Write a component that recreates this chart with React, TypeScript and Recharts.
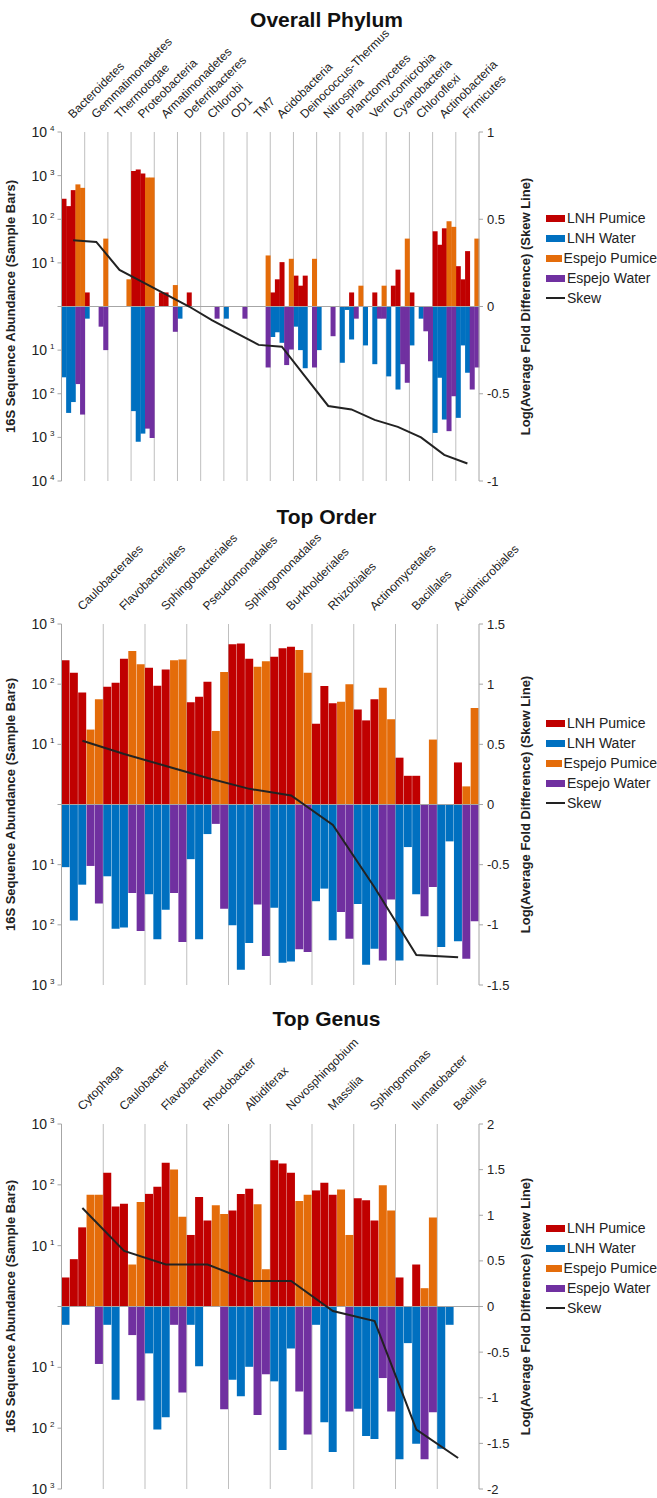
import React from 'react';
import { ComposedChart, Bar, Line, XAxis, YAxis, CartesianGrid, ReferenceLine, Legend } from 'recharts';

const RED = '#c00000';
const BLUE = '#0070c0';
const ORANGE = '#e46c0a';
const PURPLE = '#7030a0';
const FONT = '"Liberation Sans", Arial, sans-serif';

// ---- Overall Phylum (sequence counts; 3 LNH replicates, 2 Espejo replicates) ----
const PHYLUM_CATS = ['Bacteroidetes', 'Gemmatimonadetes', 'Thermotogae', 'Proteobacteria', 'Armatimonadetes', 'Deferribacteres', 'Chlorobi', 'OD1', 'TM7', 'Acidobacteria', 'Deinococcus-Thermus', 'Nitrospira', 'Planctomycetes', 'Verrucomicrobia', 'Cyanobacteria', 'Chloroflexi', 'Actinobacteria', 'Firmicutes'];
const PHYLUM_LNH_PUMICE = [[295, 200, 465], [2.1, 0, 0], [0, 0, 0], [1270, 1380, 1120], [0, 2.1, 2.1], [0, 0, 2.1], [0, 0, 0], [0, 0, 0], [0, 0, 0], [2.1, 4.2, 10.4], [5.1, 3, 5.1], [0, 0, 0], [0, 0, 2.1], [0, 0, 2.1], [0, 3, 7], [2.1, 0, 0], [53, 26, 62], [8.4, 4.2, 18.6]];
const PHYLUM_ESP_PUMICE = [[630, 525], [0, 36], [0, 4.2], [900, 900], [0, 3.1], [0, 0], [0, 0], [0, 0], [0, 14.8], [0, 12.4], [0, 12.4], [0, 0], [0, 3], [0, 3], [0, 36], [0, 0], [90, 67], [0, 36]];
const PHYLUM_LNH_WATER = [[42, 275, 155], [1.9, 0, 0], [0, 0, 0], [250, 1260, 820], [0, 0, 0], [1.9, 0, 0], [0, 0, 0], [1.9, 0, 0], [0, 0, 0], [5, 3.9, 6.8], [2.9, 10, 26], [10, 0, 0], [19.5, 1.2, 5.7], [7.8, 0, 21], [40, 0, 80], [7.8, 0, 1.9], [790, 43, 390], [357, 7.8, 33]];
const PHYLUM_ESP_WATER = [[60, 300], [2.9, 10], [0, 0], [630, 1030], [0, 3.8], [0, 0], [1.9, 0], [0, 1.9], [0, 25], [22, 9.7], [0, 25], [4.8, 0], [1.9, 0], [1.9, 1.9], [21, 56], [3.7, 18], [720, 114], [80, 25]];
const PHYLUM_SKEW = [0.38, 0.37, 0.21, 0.14, 0.07, 0.0, -0.08, -0.15, -0.22, -0.23, -0.4, -0.57, -0.59, -0.65, -0.69, -0.75, -0.85, -0.9];

// ---- Top Order ----
const ORDER_CATS = ['Caulobacterales', 'Flavobacteriales', 'Sphingobacteriales', 'Pseudomonadales', 'Sphingomonadales', 'Burkholderiales', 'Rhizobiales', 'Actinomycetales', 'Bacillales', 'Acidimicrobiales'];
const ORDER_LNH_PUMICE = [[250, 155, 73], [91, 106, 265], [188, 94, 176], [50, 62, 110], [460, 475, 265], [285, 395, 420], [22, 93, 48], [38, 25, 56], [6, 3, 3], [0, 0, 5]];
const ORDER_ESP_PUMICE = [[17.6, 56], [355, 215], [250, 258], [16.7, 159], [195, 240], [370, 155], [51, 100], [87, 26], [0, 12], [2, 40]];
const ORDER_LNH_WATER = [[11, 85, 21.5], [15.6, 116, 111], [31, 174, 56], [8.1, 174, 3.1], [102, 560, 200], [52, 425, 405], [40.5, 25, 181], [45, 460, 250], [390, 5.1, 31], [234, 4.1, 187]];
const ORDER_ESP_WATER = [[10.5, 44], [29.5, 127], [29.5, 193], [2.1, 54], [46, 330], [255, 283], [61, 170], [390, 38], [72, 23.5], [365, 87]];
const ORDER_SKEW = [0.53, 0.42, 0.32, 0.22, 0.13, 0.075, -0.17, -0.69, -1.25, -1.27];

// ---- Top Genus ----
const GENUS_CATS = ['Cytophaga', 'Caulobacter', 'Flavobacterium', 'Rhodobacter', 'Albidiferax', 'Novosphingobium', 'Massilia', 'Sphingomonas', 'Ilumatobacter', 'Bacillus'];
const GENUS_LNH_PUMICE = [[3, 6, 20], [158, 44, 49], [71, 93, 230], [15, 63, 26], [38, 71, 86], [253, 224, 158], [81, 108, 69], [60, 56, 26], [3, 0, 4.9], [0, 0, 0]];
const GENUS_ESP_PUMICE = [[69, 69], [4.9, 52], [178, 30], [46, 33], [48, 4.1], [54, 69], [84, 15], [98, 38], [2, 29], [0, 0]];
const GENUS_LNH_WATER = [[2, 0, 0], [2, 34, 0], [5.9, 105, 66], [2, 9.6, 0], [16, 30, 9.8], [17, 228, 4.9], [2, 80, 247], [48, 135, 150], [325, 4, 180], [218, 2, 0]];
const GENUS_ESP_WATER = [[0, 8.8], [2.95, 35], [2, 26], [0, 49], [61, 13], [25, 127], [0, 53], [15, 53], [325, 55], [0, 0]];
const GENUS_SKEW = [1.08, 0.61, 0.46, 0.46, 0.28, 0.28, -0.05, -0.16, -1.35, -1.66];

const LEGEND_ITEMS = [
  { name: 'LNH Pumice', color: RED },
  { name: 'LNH Water', color: BLUE },
  { name: 'Espejo Pumice', color: ORANGE },
  { name: 'Espejo Water', color: PURPLE },
  { name: 'Skew', color: '#222', line: true },
];

type PanelCfg = {
  title: string;
  cats: string[];
  lnhP: number[][];
  espP: number[][];
  lnhW: number[][];
  espW: number[][];
  skew: number[];
  top: number;
  height: number;
  plotTop: number;
  plotBottom: number;
  leftMax: number;
  rightTicks: number[];
  legendTop: number;
  titleTop: number;
};

const lg = (v: number) => (v > 0 ? Math.log10(v) : null);

function buildRows(p: PanelCfg) {
  const rows: any[] = [];
  p.cats.forEach((c, i) => {
    for (let s = 0; s < 5; s++) {
      const lnh = s < 3;
      const up = lnh ? p.lnhP[i][s] : p.espP[i][s - 3];
      const dn = lnh ? p.lnhW[i][s] : p.espW[i][s - 3];
      const dl = lg(dn);
      rows.push({
        slot: `${c}|${s}`,
        lnhP: lnh ? lg(up) : null,
        lnhW: lnh && dl !== null ? -dl : null,
        espP: !lnh ? lg(up) : null,
        espW: !lnh && dl !== null ? -dl : null,
        skew: s === 2 ? p.skew[i] : null,
      });
    }
  });
  return rows;
}

const CatTick = (props: any) => {
  const { x, y, payload } = props;
  const name = String(payload.value).split('|')[0];
  return (
    <text x={x} y={y} transform={`rotate(-45 ${x} ${y})`} fontSize={12} fill="#222" textAnchor="start">
      {name}
    </text>
  );
};

const LogTick = (props: any) => {
  const { x, y, payload } = props;
  const n = Math.abs(payload.value);
  if (n === 0) return <g />;
  return (
    <text x={x} y={y} dy={5} textAnchor="end" fontSize={14} fill="#222">
      <tspan>10</tspan>
      <tspan dx={3} dy={-6} fontSize={8}>{n}</tspan>
    </text>
  );
};

const axisTitle = (text: string, x: number) => (props: any) => {
  const vb = props.viewBox || {};
  const cy = (vb.y ?? 0) + (vb.height ?? 0) / 2;
  return (
    <text x={x} y={cy} transform={`rotate(-90 ${x} ${cy})`} textAnchor="middle" dominantBaseline="central" fontSize={13} fontWeight="bold" fill="#222">
      {text}
    </text>
  );
};

const LegendBox = () => (
  <div style={{ fontFamily: FONT, fontSize: 14, color: '#222' }}>
    {LEGEND_ITEMS.map((it) => (
      <div key={it.name} style={{ display: 'flex', alignItems: 'center', height: 20, whiteSpace: 'nowrap' }}>
        {it.line ? (
          <span style={{ display: 'inline-block', width: 19, height: 2, background: it.color }} />
        ) : (
          <span style={{ display: 'inline-block', width: 19, height: 7, background: it.color }} />
        )}
        <span style={{ marginLeft: 2 }}>{it.name}</span>
      </div>
    ))}
  </div>
);

function Panel({ p }: { p: PanelCfg }) {
  const rows = buildRows(p);
  const centers = p.cats.map((c) => `${c}|2`);
  const nCat = p.cats.length;
  const leftTicks = Array.from({ length: 2 * p.leftMax + 1 }, (_, i) => i - p.leftMax);
  const rMax = p.rightTicks[p.rightTicks.length - 1];
  const axisH = 20;
  return (
    <div style={{ position: 'absolute', left: 0, top: p.top, width: 657, height: p.height }}>
      <div style={{ position: 'absolute', left: -2, top: p.titleTop, width: 657, textAlign: 'center', fontSize: 21, lineHeight: '21px', fontWeight: 'bold', color: '#111' }}>
        {p.title}
      </div>
      <ComposedChart
        width={657}
        height={p.height}
        data={rows}
        stackOffset="sign"
        barCategoryGap={0}
        barGap={0}
        margin={{ top: p.plotTop - axisH, right: 138, bottom: p.height - p.plotBottom, left: 11.5 }}
      >
        <CartesianGrid
          yAxisId="left"
          horizontal={false}
          stroke="#bfbfbf"
          verticalCoordinatesGenerator={({ offset }: any) =>
            Array.from({ length: nCat - 1 }, (_, k) => offset.left + ((k + 1) * offset.width) / nCat)
          }
        />
        <XAxis
          dataKey="slot"
          orientation="top"
          ticks={centers}
          interval={0}
          tick={CatTick}
          tickLine={false}
          axisLine={false}
          tickSize={0}
          tickMargin={13}
          height={axisH}
        />
        <YAxis
          yAxisId="left"
          type="number"
          domain={[-p.leftMax, p.leftMax]}
          ticks={leftTicks}
          interval={0}
          width={50}
          tick={LogTick}
          tickSize={4}
          tickMargin={3}
          axisLine={{ stroke: '#a6a6a6' }}
          tickLine={{ stroke: '#a6a6a6' }}
          label={{ content: axisTitle('16S Sequence Abundance (Sample Bars)', 10.5) }}
        />
        <YAxis
          yAxisId="right"
          orientation="right"
          type="number"
          domain={[-rMax, rMax]}
          ticks={p.rightTicks}
          interval={0}
          width={40}
          tick={{ fontSize: 13, fill: '#222' }}
          tickSize={4}
          tickMargin={4}
          axisLine={{ stroke: '#a6a6a6' }}
          tickLine={{ stroke: '#a6a6a6' }}
          label={{ content: axisTitle('Log(Average Fold Difference) (Skew Line)', 525) }}
        />
        <ReferenceLine y={0} yAxisId="left" stroke="#a6a6a6" />
        <Bar dataKey="lnhP" name="LNH Pumice" stackId="s" yAxisId="left" fill={RED} isAnimationActive={false} />
        <Bar dataKey="lnhW" name="LNH Water" stackId="s" yAxisId="left" fill={BLUE} isAnimationActive={false} />
        <Bar dataKey="espP" name="Espejo Pumice" stackId="s" yAxisId="left" fill={ORANGE} isAnimationActive={false} />
        <Bar dataKey="espW" name="Espejo Water" stackId="s" yAxisId="left" fill={PURPLE} isAnimationActive={false} />
        <Line
          dataKey="skew"
          name="Skew"
          yAxisId="right"
          type="linear"
          stroke="#222"
          strokeWidth={2}
          dot={false}
          connectNulls
          isAnimationActive={false}
        />
        <Legend
          layout="vertical"
          align="center"
          verticalAlign="middle"
          content={LegendBox}
          wrapperStyle={{ left: 546, top: p.legendTop, width: 111 }}
        />
      </ComposedChart>
    </div>
  );
}

const PANELS: PanelCfg[] = [
  {
    title: 'Overall Phylum', cats: PHYLUM_CATS, lnhP: PHYLUM_LNH_PUMICE, espP: PHYLUM_ESP_PUMICE,
    lnhW: PHYLUM_LNH_WATER, espW: PHYLUM_ESP_WATER, skew: PHYLUM_SKEW,
    top: 0, height: 500, plotTop: 132, plotBottom: 481, leftMax: 4,
    rightTicks: [-1, -0.5, 0, 0.5, 1], legendTop: 208, titleTop: 9,
  },
  {
    title: 'Top Order', cats: ORDER_CATS, lnhP: ORDER_LNH_PUMICE, espP: ORDER_ESP_PUMICE,
    lnhW: ORDER_LNH_WATER, espW: ORDER_ESP_WATER, skew: ORDER_SKEW,
    top: 500, height: 500, plotTop: 124, plotBottom: 485, leftMax: 3,
    rightTicks: [-1.5, -1, -0.5, 0, 0.5, 1, 1.5], legendTop: 213, titleTop: 5.5,
  },
  {
    title: 'Top Genus', cats: GENUS_CATS, lnhP: GENUS_LNH_PUMICE, espP: GENUS_ESP_PUMICE,
    lnhW: GENUS_LNH_WATER, espW: GENUS_ESP_WATER, skew: GENUS_SKEW,
    top: 1000, height: 498, plotTop: 124, plotBottom: 489, leftMax: 3,
    rightTicks: [-2, -1.5, -1, -0.5, 0, 0.5, 1, 1.5, 2], legendTop: 218, titleTop: 7.5,
  },
];

export default function App() {
  return (
    <div style={{ position: 'absolute', left: 0, top: 0, width: 657, height: 1498, background: '#fff', fontFamily: FONT }}>
      {PANELS.map((p) => (
        <Panel key={p.title} p={p} />
      ))}
    </div>
  );
}
